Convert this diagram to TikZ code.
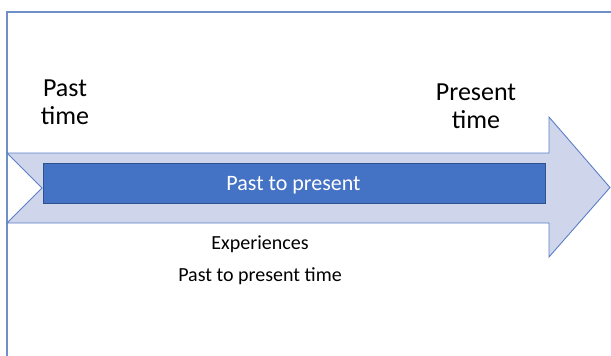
\documentclass[tikz,border=0pt]{standalone}
\usepackage{fontspec}
\setmainfont{Carlito}
\definecolor{framec}{HTML}{6F8FC8}
\definecolor{arrowfill}{HTML}{CFD5EA}
\definecolor{arrowline}{HTML}{5B7FC7}
\definecolor{barfill}{HTML}{4472C4}
\definecolor{barline}{HTML}{2F528F}
\begin{document}
\begin{tikzpicture}[x=1pt,y=-1pt,
  big/.style={font=\fontsize{26}{28}\selectfont, align=center, inner sep=0pt, anchor=base},
  small/.style={font=\fontsize{20}{22}\selectfont, inner sep=0pt, anchor=base},
  bartext/.style={font=\fontsize{22}{24}\selectfont, text=white, inner sep=0pt, anchor=base}]
\useasboundingbox (0,0) rectangle (611,356);
% frame
\coordinate (fc) at (7,12);
\coordinate (ftr) at (611,12);
\coordinate (fbl) at (7,356);
\draw[framec, line width=1.6pt] (ftr) -- (fc) -- (fbl);
% big arrow
\draw[arrowline, fill=arrowfill, line width=0.9pt, line join=miter]
  (7,153) -- (549,153) -- (549,117) -- (610,187.5) -- (549,257) -- (549,223) -- (7,223) -- (42,188) -- cycle;
% inner bar
\node[draw=barline, fill=barfill, line width=0.9pt, minimum width=502pt, minimum height=40pt, inner sep=0pt, anchor=north west] (bar) at (43,162.5) {};
\node[bartext] (pp) at (293.5,190) {Past to present};
% labels
\node[big] (past) at (65,124) {Past\\time};
\node[big] (present) at (476,128) {Present\\time};
\node[small] (exp) at (260,249) {Experiences};
\node[small] (ppt) at (260,281.5) {Past to present time};
\end{tikzpicture}
\end{document}
